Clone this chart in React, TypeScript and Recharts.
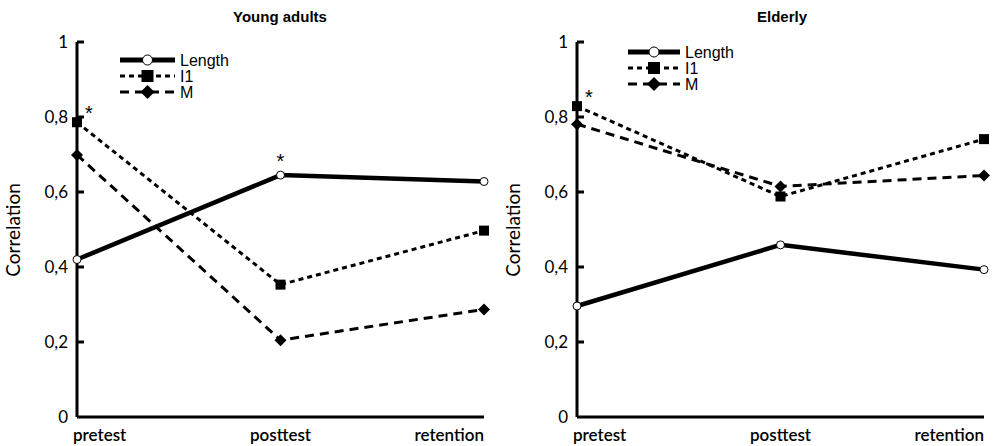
import { LineChart, Line, XAxis, YAxis, Legend, Label } from "recharts";

const phases = ["pretest", "posttest", "retention"];
const yTicks = [0, 0.2, 0.4, 0.6, 0.8, 1];

const youngLength = [0.42, 0.645, 0.628];
const youngI1 = [0.786, 0.353, 0.497];
const youngM = [0.699, 0.205, 0.287];
const youngStars = { Length: [1], I1: [0], M: [] as number[] };

const elderLength = [0.296, 0.459, 0.393];
const elderI1 = [0.829, 0.588, 0.741];
const elderM = [0.781, 0.615, 0.644];
const elderStars = { Length: [] as number[], I1: [0], M: [] as number[] };

const tickFont = "Lato, 'DejaVu Sans', sans-serif";
const helv = "'Liberation Sans', Arial, sans-serif";

function build(len: number[], i1: number[], m: number[]) {
  return phases.map((p, i) => ({ phase: p, Length: len[i], I1: i1[i], M: m[i] }));
}

const fmt = (v: number) => (v === 0 ? "0" : v === 1 ? "1" : v.toFixed(1).replace(".", ","));

function YTick(axisX: number) {
  return (props: any) => {
    const { y, payload } = props;
    return (
      <g>
        {payload.value > 0 && (
          <line x1={axisX} x2={axisX + 7} y1={y} y2={y} stroke="#000" strokeWidth={3} />
        )}
        <text x={axisX - 9} y={y + 6} textAnchor="end" fontFamily={tickFont} fontSize={17} fill="#000">
          {fmt(payload.value)}
        </text>
      </g>
    );
  };
}

function XTick(props: any) {
  const { x, y, payload, index } = props;
  const anchor = index === 0 ? "start" : index === phases.length - 1 ? "end" : "middle";
  const dx = index === 0 ? -4 : 0;
  return (
    <text x={x + dx} y={y + 22} textAnchor={anchor} fontFamily={tickFont} fontSize={17} fontWeight={600} fill="#000">
      {payload.value}
    </text>
  );
}

const Circle = (props: any) => {
  const { cx, cy } = props;
  return <circle cx={cx} cy={cy} r={4} fill="#fff" stroke="#000" strokeWidth={1} />;
};
const Square = (props: any) => {
  const { cx, cy } = props;
  return <rect x={cx - 5} y={cy - 5} width={10} height={10} fill="#000" />;
};
const Diamond = (props: any) => {
  const { cx, cy } = props;
  return <path d={`M${cx},${cy - 6}L${cx + 6},${cy}L${cx},${cy + 6}L${cx - 6},${cy}Z`} fill="#000" />;
};

function star(indices: number[], dx: number, dy: number) {
  return (props: any) => {
    const { x, y, index } = props;
    if (!indices.includes(index)) return <g />;
    return (
      <text x={x + dx} y={y + dy} textAnchor="middle" fontFamily={helv} fontSize={20} fill="#000">
        *
      </text>
    );
  };
}

function LegendBox(props: any) {
  const rows = [
    { name: "Length", dash: undefined, w: 5, mark: "c" },
    { name: "I1", dash: "5 4", w: 3, mark: "s" },
    { name: "M", dash: "9 6", w: 3, mark: "d" },
  ];
  const lw = props.lineW;
  return (
    <svg width={130} height={50} style={{ overflow: "visible", display: "block" }}>
      {rows.map((r, i) => {
        const y = 8 + i * 16;
        const cx = lw / 2;
        return (
          <g key={r.name}>
            <line x1={0} x2={lw} y1={y} y2={y} stroke="#000" strokeWidth={r.w} strokeDasharray={r.dash} />
            {r.mark === "c" && <circle cx={cx} cy={y} r={5} fill="#fff" stroke="#000" strokeWidth={1} />}
            {r.mark === "s" && <rect x={cx - 6} y={y - 6} width={12} height={12} fill="#000" />}
            {r.mark === "d" && (
              <path d={`M${cx},${y - 7}L${cx + 7},${y}L${cx},${y + 7}L${cx - 7},${y}Z`} fill="#000" />
            )}
            <text x={lw + 5} y={y + 6} fontFamily={helv} fontSize={16} fill="#000">
              {r.name}
            </text>
          </g>
        );
      })}
    </svg>
  );
}

type PanelProps = {
  data: any[];
  axisW: number;
  rightM: number;
  stars: { Length: number[]; I1: number[]; M: number[] };
  legendLeft: number;
  legendTop: number;
  lineW: number;
};

function Panel({ data, axisW, rightM, stars, legendLeft, legendTop, lineW }: PanelProps) {
  return (
    <LineChart width={500} height={446} data={data} margin={{ top: 42, right: rightM, left: 0, bottom: 0 }}>
      <XAxis
        dataKey="phase"
        height={29}
        axisLine={{ stroke: "#000", strokeWidth: 3 }}
        tickLine={false}
        tickSize={0}
        tick={XTick}
        interval={0}
      />
      <YAxis
        domain={[0, 1]}
        ticks={yTicks}
        width={axisW}
        axisLine={{ stroke: "#000", strokeWidth: 3 }}
        tickLine={false}
        tickSize={0}
        tick={YTick(axisW)}
        interval={0}
      >
        <Label
          content={() => (
            <text
              transform={`translate(${axisW - 57},230) rotate(-90)`}
              textAnchor="middle"
              fontFamily={tickFont}
              fontSize={19}
              fill="#000"
            >
              Correlation
            </text>
          )}
        />
      </YAxis>
      <Legend
        layout="horizontal"
        verticalAlign="middle"
        align="center"
        content={() => <LegendBox lineW={lineW} />}
        wrapperStyle={{ position: "absolute", left: legendLeft, top: legendTop, width: 130, height: 50 }}
      />
      <Line
        dataKey="Length"
        stroke="#000"
        strokeWidth={4.5}
        dot={<Circle />}
        label={star(stars.Length, 0, -7)}
        isAnimationActive={false}
      />
      <Line
        dataKey="I1"
        stroke="#000"
        strokeWidth={3}
        strokeDasharray="5 4"
        dot={<Square />}
        label={star(stars.I1, 12, -2)}
        isAnimationActive={false}
      />
      <Line
        dataKey="M"
        stroke="#000"
        strokeWidth={3}
        strokeDasharray="9 6"
        dot={<Diamond />}
        label={star(stars.M, 0, -7)}
        isAnimationActive={false}
      />
    </LineChart>
  );
}

export default function App() {
  return (
    <div style={{ position: "absolute", left: 0, top: 0, width: 995, height: 446, background: "#fff" }}>
      <div style={{ position: "absolute", left: 0, top: 0 }}>
        <Panel
          data={build(youngLength, youngI1, youngM)}
          axisW={77}
          rightM={16}
          stars={youngStars}
          legendLeft={120}
          legendTop={52}
          lineW={55}
        />
      </div>
      <div style={{ position: "absolute", left: 495, top: 0 }}>
        <Panel
          data={build(elderLength, elderI1, elderM)}
          axisW={82}
          rightM={11}
          stars={elderStars}
          legendLeft={133}
          legendTop={44}
          lineW={52}
        />
      </div>
      <div
        style={{
          position: "absolute",
          left: 180,
          width: 200,
          top: 8,
          textAlign: "center",
          fontFamily: helv,
          fontWeight: "bold",
          fontSize: 15,
        }}
      >
        Young adults
      </div>
      <div
        style={{
          position: "absolute",
          left: 682,
          width: 200,
          top: 8,
          textAlign: "center",
          fontFamily: helv,
          fontWeight: "bold",
          fontSize: 15,
        }}
      >
        Elderly
      </div>
    </div>
  );
}
